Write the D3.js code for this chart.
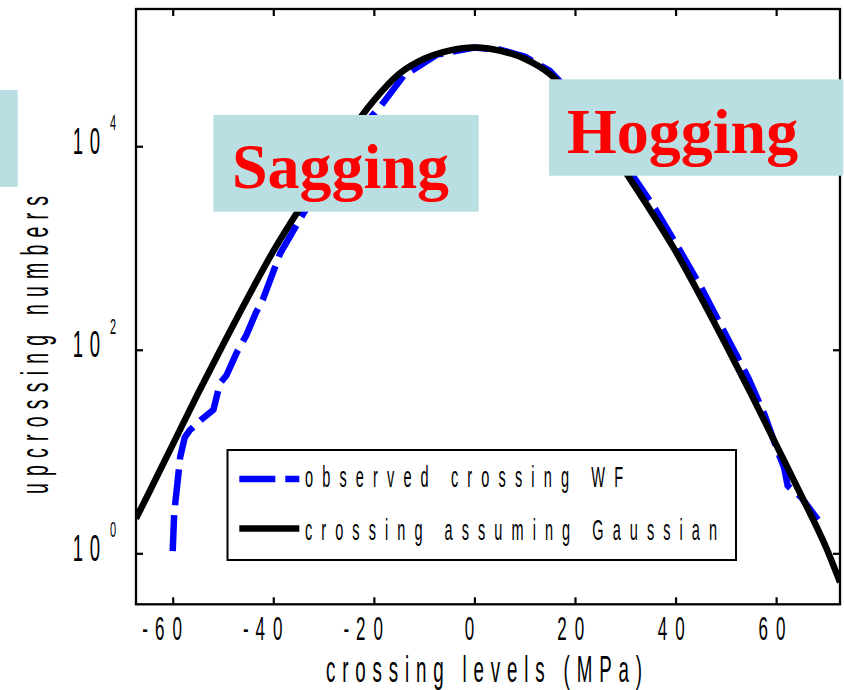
<!DOCTYPE html>
<html>
<head>
<meta charset="utf-8">
<script src="https://cdn.jsdelivr.net/npm/d3@7"></script>
<style>
  html, body { margin: 0; padding: 0; background: #fff; }
  svg { display: block; }
  .cond { font-family: "Liberation Sans", Arial, Helvetica, sans-serif; fill: #000; }
  .tag { font-family: "Liberation Serif", "Times New Roman", serif; font-weight: bold; fill: #ff0000; }
</style>
</head>
<body>
<svg id="chart" width="844" height="690"></svg>
<script>
// Crossing levels (MPa) and upcrossing counts
const gaussLevels = [-67.3, -65, -60, -55, -50, -45, -40, -35, -30, -25, -20, -15, -10, -5, 0,
                     5, 10, 15, 20, 25, 30, 35, 40, 45, 50, 55, 60, 65, 70, 72.7];
const gaussCounts = [2.2, 3.7, 11.7, 37, 112, 330, 930, 2340, 5620, 13200, 28200, 51300, 72400, 87100, 93300,
                     87100, 72400, 51300, 28200, 13200, 5620, 2340, 930, 330, 112, 37, 11.7, 3.7, 1.12, 0.52];

const obsLevels = [-60.0, -59.7, -59.0, -58.5, -57.6, -56.6, -54.4, -51.9, -50.6, -49.3, -47.3, -45.3,
                   -43.5, -42.1, -38.6, -34.0, -30, -26, -22, -18.7, -14.1, -7.5, 0, 5, 10, 15, 20, 25,
                   30, 36, 40, 45, 50.7, 54.5, 57.7, 60.5, 61.6, 62.3, 63.0, 65, 66.3, 68.3];
const obsCounts = [1.05, 2.5, 5.2, 8.9, 13.8, 16.2, 20.4, 25.7, 46.8, 56.2, 93.3, 141,
                   229, 309, 891, 2190, 4570, 8910, 16200, 24500, 49000, 79400, 93300, 89100, 75900, 55000, 30200, 14800,
                   6610, 2400, 1120, 417, 120, 52.5, 22.9, 9.5, 6.9, 4.6, 4.3, 3.55, 2.9, 2.14];

const xTicks = [-60, -40, -20, 0, 20, 40, 60];
const xTickLabels = ["-60", "-40", "-20", "0", "20", "40", "60"];
const yTicks = [1, 100, 10000];
const yTickBase = ["10", "10", "10"];
const yTickExp = ["0", "2", "4"];

const xTitle = "crossing levels (MPa)";
const yTitle = "upcrossing numbers";
const seriesNames = ["observed crossing WF", "crossing assuming Gaussian"];
const notes = ["Sagging", "Hogging"];

const svg = d3.select("#chart");
const plot = { left: 136, right: 840, top: 9, bottom: 604.3 };
const SX = 0.5;               // narrow lettering of the axis font
const boxFill = "#badfe3";

const x = d3.scaleLinear().domain([-67.3, 72.7]).range([plot.left, plot.right]);
const y = d3.scaleLog().domain([0.3155, 223000]).range([plot.bottom, plot.top]);

svg.append("defs").append("clipPath").attr("id", "plotClip")
  .append("rect").attr("x", plot.left).attr("y", plot.top)
  .attr("width", plot.right - plot.left).attr("height", plot.bottom - plot.top);

// curves
const curveG = svg.append("g").attr("clip-path", "url(#plotClip)");
const obsData = obsLevels.map((v, i) => [v, obsCounts[i]]);
const gaussData = gaussLevels.map((v, i) => [v, gaussCounts[i]]);

curveG.append("path")
  .datum(obsData)
  .attr("d", d3.line().x(d => x(d[0])).y(d => y(d[1])).curve(d3.curveLinear))
  .attr("fill", "none").attr("stroke", "#0000ff").attr("stroke-width", 6.5)
  .attr("stroke-dasharray", "36,10").attr("stroke-linejoin", "round");

curveG.append("path")
  .datum(gaussData)
  .attr("d", d3.line().x(d => x(d[0])).y(d => y(d[1])).curve(d3.curveMonotoneX))
  .attr("fill", "none").attr("stroke", "#000").attr("stroke-width", 6.5)
  .attr("stroke-linejoin", "round");

// axes: inward ticks on all four sides
function styleAxis(g) {
  g.select(".domain").remove();
  g.selectAll(".tick line").attr("stroke", "#000").attr("stroke-width", 2.2);
}
svg.append("g").attr("transform", `translate(0,${plot.bottom})`)
  .call(d3.axisBottom(x).tickValues(xTicks).tickSize(-7).tickFormat("")).call(styleAxis);
svg.append("g").attr("transform", `translate(0,${plot.top})`)
  .call(d3.axisTop(x).tickValues(xTicks).tickSize(-7).tickFormat("")).call(styleAxis);
svg.append("g").attr("transform", `translate(${plot.left},0)`)
  .call(d3.axisLeft(y).tickValues(yTicks).tickSize(-7).tickFormat("")).call(styleAxis);
svg.append("g").attr("transform", `translate(${plot.right},0)`)
  .call(d3.axisRight(y).tickValues(yTicks).tickSize(-7).tickFormat("")).call(styleAxis);

svg.append("rect")
  .attr("x", plot.left).attr("y", plot.top)
  .attr("width", plot.right - plot.left).attr("height", plot.bottom - plot.top)
  .attr("fill", "none").attr("stroke", "#000").attr("stroke-width", 2.3);

// x tick labels, one glyph per tspan
function glyphCenters(label, tx) {
  if (label.length === 1) return [tx - 5];
  const out = [];
  let cx = tx + 4.5;
  for (let i = label.length - 1; i >= 0; i--) {
    out.unshift(cx);
    cx -= (label[i - 1] === "-") ? 14.5 : 17.5;
  }
  return out;
}
xTicks.forEach((t, i) => {
  const label = xTickLabels[i];
  const centers = glyphCenters(label, x(t));
  const txt = svg.append("text").attr("class", "cond")
    .attr("font-size", 34)
    .attr("transform", `translate(0,639.5) scale(${SX},1)`)
    .attr("text-anchor", "middle");
  label.split("").forEach((ch, k) => {
    txt.append("tspan").attr("x", centers[k] / SX).text(ch);
  });
});

// y tick labels: 10 with superscript exponent
yTicks.forEach((t, i) => {
  const ty = y(t);
  const txt = svg.append("text").attr("class", "cond")
    .attr("transform", `translate(0,${ty + 7.5}) scale(${SX},1)`)
    .attr("text-anchor", "middle").attr("font-size", 37);
  const base = yTickBase[i];
  txt.append("tspan").attr("x", 78 / SX).text(base[0]);
  txt.append("tspan").attr("x", 95 / SX).text(base[1]);
  txt.append("tspan").attr("x", 113 / SX).attr("y", -23.5)
    .attr("font-size", 22).text(yTickExp[i]);
});

// spaced, narrow text stretched over a given length
function spacedText(str, x0, baseline, len, size, rotate) {
  const tr = rotate
    ? `translate(${x0},${baseline}) rotate(-90) scale(${SX},1)`
    : `translate(${x0},${baseline}) scale(${SX},1)`;
  return svg.append("text").attr("class", "cond")
    .attr("font-size", size)
    .attr("transform", tr)
    .attr("textLength", len / SX)
    .attr("lengthAdjust", "spacing")
    .text(str);
}

spacedText(xTitle, 326, 681.5, 316, 37.5, false);
spacedText(yTitle, 48, 494, 298, 39, true);

// legend
const lg = { x: 227.5, y: 450, w: 508.5, h: 110 };
svg.append("rect").attr("x", lg.x).attr("y", lg.y).attr("width", lg.w).attr("height", lg.h)
  .attr("fill", "#fff").attr("stroke", "#000").attr("stroke-width", 2);
svg.append("line").attr("x1", 239.3).attr("x2", 299.3).attr("y1", 479).attr("y2", 479)
  .attr("stroke", "#0000ff").attr("stroke-width", 6.5).attr("stroke-dasharray", "36,10");
svg.append("line").attr("x1", 239.3).attr("x2", 299.3).attr("y1", 528.5).attr("y2", 528.5)
  .attr("stroke", "#000").attr("stroke-width", 6.5);
spacedText(seriesNames[0], 305, 486.7, 318, 29, false);
spacedText(seriesNames[1], 305, 540, 412, 29, false);

// annotation boxes
svg.append("rect").attr("x", 0).attr("y", 90).attr("width", 17.7).attr("height", 97).attr("fill", boxFill);
svg.append("rect").attr("x", 213.3).attr("y", 115).attr("width", 265.4).attr("height", 96.7).attr("fill", boxFill);
svg.append("rect").attr("x", 549).attr("y", 79.3).attr("width", 294.3).attr("height", 96.4).attr("fill", boxFill);
svg.append("text").attr("class", "tag").attr("font-size", 64)
  .attr("x", 232).attr("y", 188.3).text(notes[0]);
svg.append("text").attr("class", "tag").attr("font-size", 64)
  .attr("x", 567).attr("y", 153.3).text(notes[1]);
</script>
</body>
</html>
